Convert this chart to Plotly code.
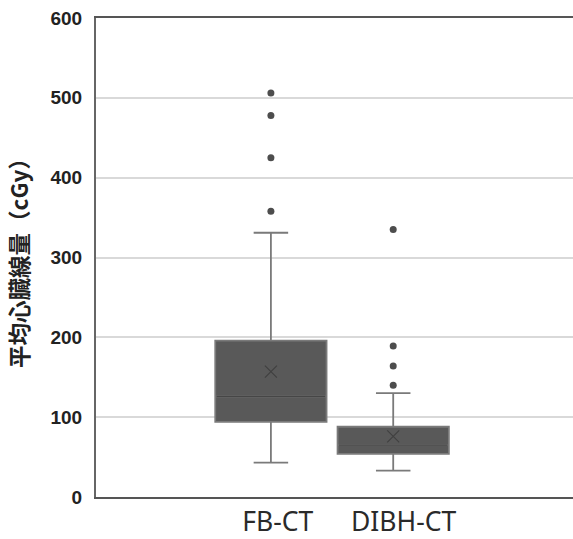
import plotly.graph_objects as go

categories = ["FB-CT", "DIBH-CT"]
q1 = [94, 54]
median = [126, 65]
q3 = [196, 88]
lower_whisker = [43, 33]
upper_whisker = [331, 130]
means = [157, 76]
outliers_fb = [506, 478, 425, 358]
outliers_dibh = [335, 189, 164, 140]
y_ticks = [0, 100, 200, 300, 400, 500, 600]

fig = go.Figure()

fig.add_trace(go.Box(
    x=categories, q1=q1, median=median, q3=q3,
    lowerfence=lower_whisker, upperfence=upper_whisker,
    fillcolor="#595959", line=dict(color="#7a7a7a", width=1.8),
    width=0.91, whiskerwidth=0.31, boxpoints=False, showlegend=False,
    hoverinfo="skip",
))
# darker median line overlay
fig.add_trace(go.Box(
    x=categories, q1=median, median=median, q3=median,
    lowerfence=median, upperfence=median,
    fillcolor="rgba(0,0,0,0)", line=dict(color="#464646", width=1.2),
    width=0.89, whiskerwidth=0, boxpoints=False, showlegend=False,
    hoverinfo="skip",
))

fig.add_trace(go.Scatter(
    x=categories, y=means, mode="markers",
    marker=dict(symbol="x-thin", size=12, line=dict(color="#404040", width=1.2)),
    showlegend=False,
))

fig.add_trace(go.Scatter(
    x=[categories[0]] * len(outliers_fb) + [categories[1]] * len(outliers_dibh),
    y=outliers_fb + outliers_dibh, mode="markers",
    marker=dict(symbol="circle", size=7, color="#4d4d4d"),
    showlegend=False,
))

fig.update_layout(
    width=573, height=539,
    margin=dict(l=96, r=0, t=18, b=42, autoexpand=False),
    paper_bgcolor="white", plot_bgcolor="white",
    boxmode="overlay",
    xaxis=dict(
        type="category", range=[-1.43, 2.47], automargin=False,
        tickvals=categories,
        ticktext=["\u00a0\u00a0FB-CT", "\u00a0\u00a0\u00a0DIBH-CT"],
        showgrid=False, showline=True, linecolor="#555555", linewidth=2,
        mirror=True, ticks="", ticklabelstandoff=0,
        tickfont=dict(family="Noto Sans", size=26.5, color="#2a2a2a"),
        zeroline=False,
    ),
    yaxis=dict(
        range=[0, 600], tickvals=y_ticks, automargin=False,
        showgrid=True, gridcolor="#d9d9d9", gridwidth=1.5,
        showline=True, linecolor="#666666", linewidth=2,
        ticks="", ticklabelstandoff=8, zeroline=False,
        tickfont=dict(family="Liberation Sans", size=19, color="#222222", weight="bold"),
        title=dict(text="平均心臓線量（cGy）", standoff=16,
                   font=dict(family="Noto Sans CJK JP", size=22.5, color="#222222", weight="bold")),
    ),
)

fig.write_html("out.html", config={"displayModeBar": False},
               post_script="document.body.style.margin='0';document.body.style.overflow='hidden';")
